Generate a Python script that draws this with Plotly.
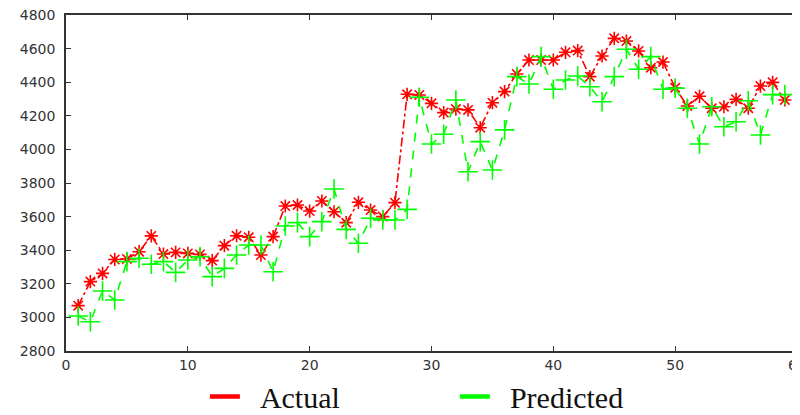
import plotly.graph_objects as go

x_index = list(range(1, 60))

actual = [3070, 3213, 3262, 3345, 3348, 3391, 3485, 3377, 3387, 3381,
          3375, 3338, 3427, 3486, 3477, 3371, 3481, 3663, 3669, 3633,
          3693, 3629, 3564, 3685, 3639, 3600, 3683, 4328, 4324, 4274,
          4219, 4240, 4235, 4129, 4278, 4344, 4449, 4532, 4532, 4532,
          4578, 4588, 4433, 4556, 4661, 4645, 4586, 4486, 4520, 4367,
          4258, 4316, 4245, 4254, 4298, 4245, 4377, 4399, 4294]

predicted = [3008, 2974, 3157, 3104, 3332, 3352, 3316, 3332, 3268, 3342,
             3361, 3243, 3292, 3371, 3431, 3431, 3272, 3544, 3564, 3481,
             3570, 3764, 3524, 3441, 3590, 3580, 3580, 3643, 4310, 4032,
             4090, 4294, 3867, 4046, 3877, 4116, 4433, 4389, 4552, 4358,
             4413, 4437, 4373, 4284, 4433, 4596, 4477, 4552, 4358, 4365,
             4245, 4032, 4254, 4135, 4165, 4290, 4086, 4326, 4326]

x_ticks = [0, 10, 20, 30, 40, 50, 60]
y_ticks = list(range(2800, 4801, 200))

RED = "#ff0000"
GREEN = "#00ff00"

fig = go.Figure()

fig.add_trace(go.Scatter(
    x=x_index, y=actual, mode="lines+markers", name="Actual",
    line=dict(color=RED, width=1.6, dash="dashdot"),
    marker=dict(symbol="asterisk-open", size=11, color=RED,
                line=dict(color=RED, width=1.6)),
    showlegend=False,
))
fig.add_trace(go.Scatter(
    x=x_index, y=predicted, mode="lines+markers", name="Predicted",
    line=dict(color=GREEN, width=1.6, dash="dash"),
    marker=dict(symbol="cross-thin-open", size=14, color=GREEN,
                line=dict(color=GREEN, width=1.6)),
    showlegend=False,
))

# legend entries (solid thick swatches as in the reference)
fig.add_trace(go.Scatter(x=[None], y=[None], mode="lines",
                         name="\u00a0\u00a0Actual",
                         line=dict(color=RED, width=4.5)))
fig.add_trace(go.Scatter(x=[None], y=[None], mode="lines",
                         name="\u00a0\u00a0Predicted",
                         line=dict(color=GREEN, width=4.5)))

axis_common = dict(
    showgrid=False, zeroline=False, showline=True, linecolor="#333333",
    linewidth=1.5, mirror="ticks", ticks="inside", ticklen=5,
    tickcolor="#333333", tickwidth=1.2, automargin=False,
    ticklabeloverflow="allow",
    tickfont=dict(family="DejaVu Sans", size=14, color="#333333"),
)

fig.update_xaxes(range=[0, 60], tickvals=x_ticks, **axis_common)
fig.update_yaxes(range=[2800, 4800], tickvals=y_ticks,
                 ticklabelstandoff=6, **axis_common)

# page body has an 8px margin, so the figure is sized to fill the window
fig.update_layout(
    width=792, height=407,
    margin=dict(l=58, r=3, t=7, b=64, autoexpand=False),
    paper_bgcolor="white", plot_bgcolor="white",
    legend=dict(orientation="h", x=0.19, xanchor="left", y=-0.058,
                yanchor="top", entrywidth=205, entrywidthmode="pixels",
                font=dict(family="Liberation Serif", size=30, color="#111111"),
                bgcolor="rgba(255,255,255,0)"),
)

fig.write_html("out.html")
